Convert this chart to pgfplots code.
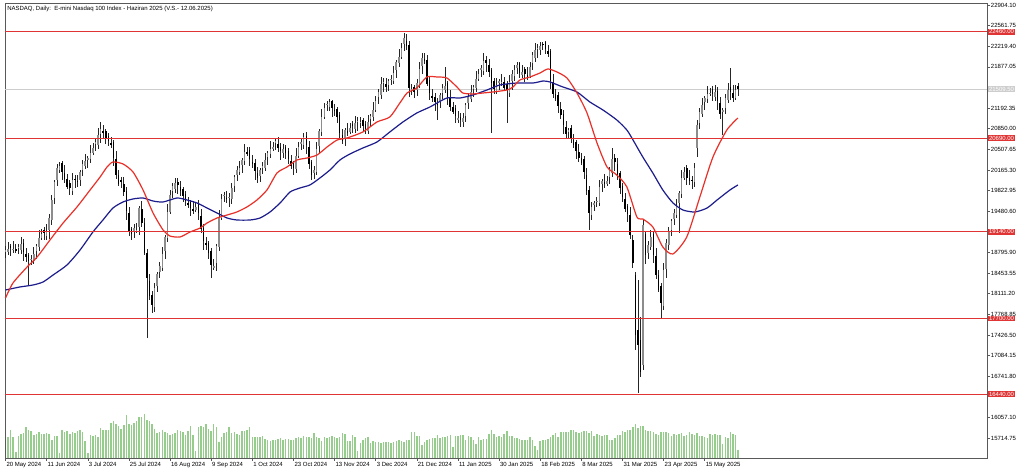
\documentclass[border=0pt]{standalone}
\usepackage{pgfplots}
\pgfplotsset{compat=1.18}
\usepackage{pgfplotstable}
\usepackage{fontspec}
\setmainfont{Liberation Sans}
\newcommand\cf{\fontsize{4.5}{5.4}\selectfont}
\definecolor{mtred}{RGB}{224,52,52}
\definecolor{mared}{RGB}{232,48,40}
\definecolor{mablue}{RGB}{28,28,140}
\definecolor{volgreen}{RGB}{150,204,140}
\definecolor{pricegrey}{RGB}{205,205,205}
\definecolor{bullgrey}{RGB}{140,140,140}
\pgfplotstableread{
i o h l c
0 18800 18897 18710 18837
1 18797 18964 18747 18854
2 18904 18944 18740 18870
3 18850 18994 18780 18854
4 18854 18934 18780 18820
5 18880 18937 18770 18887
6 18837 19057 18777 18937
7 18957 19027 18654 18804
8 18774 18864 18641 18721
9 18761 18791 18256 18654
10 18684 18748 18594 18688
11 18648 18881 18598 18771
12 18821 18943 18691 18903
13 18883 19176 18813 19036
14 19036 19183 18996 19103
15 19163 19213 19009 19119
16 19069 19272 19009 19152
17 19172 19438 19022 19368
18 19338 19757 19258 19667
19 19707 19996 19607 19966
20 19996 20258 19906 20198
21 20158 20300 20108 20231
22 20281 20321 20002 20132
23 20112 20252 19946 20016
24 20016 20096 19843 19883
25 19943 19993 19756 19866
26 19816 20119 19756 19999
27 20019 20089 19866 20016
28 19986 20076 19886 19966
29 20006 20162 19906 20132
30 20162 20325 20072 20265
31 20225 20424 20175 20314
32 20330 20404 20200 20364
33 20344 20587 20274 20447
34 20447 20610 20407 20530
35 20590 20680 20480 20630
36 20580 20866 20520 20746
37 20766 20962 20616 20846
38 20816 20906 20699 20779
39 20819 20849 20596 20696
40 20726 20786 20556 20646
41 20606 20716 20530 20580
42 20630 20670 20234 20364
43 20344 20484 20012 20082
44 20082 20162 19893 19933
45 19993 20043 19872 19982
46 19932 20052 19740 19800
47 19820 19890 19334 19484
48 19454 19544 19072 19152
49 19192 19222 19003 19103
50 19133 19262 19043 19202
51 19162 19279 19112 19169
52 19219 19574 19089 19534
53 19514 19654 19215 19285
54 19285 19365 18747 18787
55 18787 18850 17376 18372
56 18322 18442 18013 18073
57 18093 18163 17791 17924
58 17894 18296 17814 18206
59 18246 18469 18146 18439
60 18469 18631 18379 18571
61 18531 18881 18481 18771
62 18821 19093 18691 19053
63 19033 19608 18963 19468
64 19468 19830 19428 19750
65 19810 19949 19700 19899
66 19849 20032 19789 19949
67 19969 20039 19766 19916
68 19886 19976 19736 19816
69 19856 19886 19633 19733
70 19763 19823 19560 19650
71 19610 19720 19534 19584
72 19634 19674 19404 19534
73 19514 19654 19431 19501
74 19501 19631 19461 19551
75 19611 19661 19341 19451
76 19401 19521 19126 19186
77 19206 19276 18836 18986
78 18956 19046 18840 18920
79 18960 18990 18687 18787
80 18817 18877 18372 18588
81 18548 18681 18498 18571
82 18621 18943 18491 18903
83 18883 19508 18813 19368
84 19368 19764 19328 19684
85 19744 19800 19634 19750
86 19700 19820 19624 19684
87 19704 19787 19554 19717
88 19687 19956 19607 19866
89 19906 20079 19806 20049
90 20079 20225 19989 20165
91 20125 20308 20075 20198
92 20248 20371 20118 20331
93 20311 20604 20241 20464
94 20464 20544 20391 20431
95 20491 20541 20238 20348
96 20298 20418 20205 20265
97 20285 20355 19998 20148
98 20118 20208 19952 20032
99 20072 20195 19972 20165
100 20195 20291 20105 20231
101 20191 20441 20141 20331
102 20381 20487 20251 20447
103 20427 20654 20357 20514
104 20514 20627 20474 20547
105 20607 20696 20497 20646
106 20596 20716 20470 20530
107 20550 20620 20330 20480
108 20450 20604 20370 20514
109 20554 20584 20347 20447
110 20477 20537 20258 20348
111 20308 20418 20181 20231
112 20281 20321 20082 20198
113 20178 20537 20108 20397
114 20397 20627 20357 20547
115 20607 20680 20497 20630
116 20580 20779 20520 20713
117 20733 20803 20430 20580
118 20550 20640 20185 20265
119 20305 20335 19999 20082
120 20112 20225 20022 20165
121 20125 20624 20075 20514
122 20564 20852 20434 20812
123 20792 21185 20722 21045
124 21045 21274 21005 21194
125 21254 21311 21144 21261
126 21211 21340 21151 21294
127 21314 21330 21044 21194
128 21164 21254 21064 21144
129 21184 21214 20945 21045
130 21075 21135 20689 20779
131 20739 20849 20596 20646
132 20696 20869 20566 20829
133 20809 20949 20726 20796
134 20796 20942 20756 20862
135 20922 20972 20785 20895
136 20845 21065 20785 20945
137 20965 21048 20815 20978
138 20948 21052 20868 20962
139 21002 21032 20795 20895
140 20925 20985 20756 20846
141 20806 21072 20756 20962
142 21012 21101 20882 21061
143 21041 21301 20971 21161
144 21161 21390 21121 21310
145 21370 21510 21260 21460
146 21410 21713 21350 21593
147 21613 21696 21463 21626
148 21596 21686 21463 21543
149 21583 21672 21483 21642
150 21672 21736 21582 21676
151 21636 21885 21586 21775
152 21825 21998 21695 21958
153 21938 22181 21868 22041
154 22041 22270 22001 22190
155 22250 22439 22140 22356
156 22306 22426 22163 22223
157 22243 22313 21376 21526
158 21496 21600 21416 21510
159 21550 21580 21360 21460
160 21490 21669 21400 21609
161 21569 21952 21519 21842
162 21892 22107 21762 22024
163 22004 22100 21921 21991
164 21991 22071 21553 21593
165 21653 21703 21333 21443
166 21393 21513 21300 21360
167 21380 21450 21144 21294
168 21264 21354 20995 21261
169 21301 21440 21201 21410
170 21440 21586 21350 21526
171 21486 21875 21436 21559
172 21609 21649 21247 21377
173 21357 21497 21141 21211
174 21211 21291 21088 21128
175 21188 21238 20951 21061
176 21011 21148 20951 21028
177 21048 21118 20879 20995
178 20965 21118 20885 21028
179 21068 21274 20968 21244
180 21274 21437 21184 21377
181 21337 21570 21287 21460
182 21510 21583 21380 21543
183 21523 21816 21453 21676
184 21676 21839 21636 21759
185 21819 21908 21709 21858
186 21808 22100 21748 21974
187 21994 22064 21791 21941
188 21911 22001 21712 21792
189 21832 21862 20779 21609
190 21639 21699 21420 21510
191 21470 21686 21420 21576
192 21626 21682 21496 21642
193 21622 21766 21552 21626
194 21626 21706 21486 21526
195 21586 21636 20945 21493
196 21443 21746 21383 21626
197 21646 21829 21496 21759
198 21729 21915 21649 21825
199 21865 21958 21765 21908
200 21938 21960 21685 21775
201 21735 21902 21685 21792
202 21842 21882 21629 21759
203 21739 21879 21655 21725
204 21725 21955 21685 21875
205 21935 22124 21825 22074
206 22024 22277 21964 22157
207 22177 22260 22027 22190
208 22160 22290 22080 22223
209 22263 22293 22157 22257
210 22287 22300 22084 22174
211 22134 22244 22041 22091
212 22141 22181 21512 21642
213 21622 21762 21357 21427
214 21427 21507 21304 21344
215 21404 21454 21117 21227
216 21177 21297 21018 21078
217 21098 21168 20762 20912
218 20882 20972 20683 20763
219 20803 20859 20703 20829
220 20859 20919 20606 20696
221 20656 20766 20530 20580
222 20630 20670 20351 20481
223 20461 20601 20294 20364
224 20364 20444 20241 20281
225 20341 20391 20022 20132
226 20082 20202 19756 19816
227 19836 19906 19169 19451
228 19421 19641 19341 19551
229 19591 19647 19491 19617
230 19647 19710 19557 19650
231 19610 19993 19560 19883
232 19933 20022 19803 19982
233 19962 20102 19863 19933
234 19933 20062 19893 19982
235 20042 20215 19932 20165
236 20115 20530 20055 20348
237 20368 20438 20148 20298
238 20268 20358 20002 20082
239 20122 20152 19766 19866
240 19896 19956 19627 19717
241 19677 19787 19468 19518
242 19568 19608 19305 19435
243 19415 19555 19016 19086
244 19003 19080 18540 18621
245 18422 18471 17177 17426
246 17509 18339 16463 17260
247 17343 17725 16729 16812
248 16928 19335 16845 19252
249 19100 19150 18600 18754
250 18784 18980 18694 18920
251 18880 19163 18830 19053
252 19103 19143 18624 18754
253 18734 18874 18352 18422
254 18422 18502 18133 18173
255 18233 18283 17708 17957
256 17907 18625 17847 18505
257 18525 19023 18375 18953
258 18923 19226 18843 19136
259 19176 19348 19076 19318
260 19348 19511 19258 19451
261 19411 19677 19361 19567
262 19617 19823 19119 19783
263 19763 20172 19693 20032
264 20032 20212 19992 20132
265 20192 20242 19922 20032
266 20040 20160 19922 19982
267 20002 20072 19849 19999
268 19969 20288 19889 20198
269 20530 20995 20381 20912
270 20942 21188 20852 21128
271 21088 21354 21038 21244
272 21294 21400 21164 21360
273 21340 21567 21270 21427
274 21427 21523 21387 21443
275 21503 21553 21317 21427
276 21377 21580 21317 21460
277 21480 21550 21160 21310
278 21280 21370 21015 21095
279 21135 21191 20746 21161
280 21191 21420 21101 21360
281 21320 21603 21270 21493
282 21543 21858 21330 21460
283 21440 21580 21290 21360
284 21360 21573 21320 21493
285 21553 21603 21400 21509.5
}\candles
\pgfplotstableread[header=false,row sep=\\]{16\\21\\28\\21\\6\\22\\24\\25\\31\\28\\27\\23\\24\\26\\24\\24\\25\\24\\18\\22\\22\\5\\28\\26\\27\\24\\26\\25\\27\\28\\26\\17\\5\\23\\22\\23\\21\\30\\28\\28\\28\\35\\37\\34\\32\\29\\33\\43\\34\\33\\35\\37\\41\\41\\44\\38\\37\\34\\29\\25\\26\\28\\26\\25\\23\\24\\25\\28\\27\\26\\23\\27\\32\\23\\7\\31\\32\\31\\34\\29\\27\\34\\31\\16\\21\\25\\26\\31\\25\\26\\24\\23\\27\\27\\28\\31\\21\\21\\21\\21\\22\\19\\18\\17\\18\\18\\19\\20\\18\\19\\19\\18\\18\\20\\21\\20\\22\\21\\21\\20\\25\\21\\20\\17\\21\\20\\21\\22\\21\\20\\21\\25\\24\\17\\17\\23\\21\\7\\15\\18\\20\\21\\15\\17\\16\\16\\15\\16\\16\\16\\15\\16\\17\\18\\17\\16\\18\\18\\26\\26\\22\\22\\13\\16\\18\\19\\20\\20\\23\\20\\21\\21\\22\\23\\11\\22\\22\\23\\23\\18\\22\\21\\18\\14\\21\\18\\19\\19\\24\\28\\24\\21\\22\\21\\24\\27\\22\\22\\20\\20\\19\\18\\18\\18\\21\\18\\12\\8\\17\\18\\18\\19\\21\\23\\25\\21\\26\\26\\26\\26\\28\\28\\26\\25\\26\\27\\27\\25\\27\\22\\24\\23\\22\\23\\23\\18\\18\\20\\23\\23\\27\\26\\28\\28\\31\\34\\30\\32\\32\\28\\27\\27\\26\\24\\23\\26\\26\\26\\25\\22\\24\\23\\24\\25\\22\\23\\26\\24\\23\\25\\22\\22\\21\\20\\24\\23\\24\\23\\23\\14\\21\\20\\26\\24\\23\\8\\}\vol
\begin{document}
\begin{tikzpicture}
\useasboundingbox (0,0) rectangle (768pt,355.5pt);
\fill[white] (0,0) rectangle (768pt,355.5pt);
% volume pane (same frame, own scale)
\begin{axis}[at={(3.75pt,12pt)},anchor=south west,scale only axis,
  width=736.5pt,height=341.25pt,xmin=-0.2,xmax=381.8,ymin=0,ymax=455,hide axis]
\addplot[ycomb,mark=none,volgreen,line width=1.1pt] table[x expr=\coordindex,y index=0]{\vol};
\end{axis}
\begin{axis}[at={(3.75pt,12pt)},anchor=south west,scale only axis,
  width=736.5pt,height=341.25pt,
  xmin=-0.2,xmax=381.8,ymin=15384.2,ymax=22937.2,
  clip=false,
  axis line style={black!65,line width=0.5pt},
  tick align=outside,major tick length=2.25pt,
  tick style={black!65,line width=0.4pt},
  xtick pos=bottom,ytick pos=right,yticklabel pos=right,
  xtick={0,16,...,272},
  xticklabels={20 May 2024,11 Jun 2024,3 Jul 2024,25 Jul 2024,16 Aug 2024,9 Sep 2024,1 Oct 2024,23 Oct 2024,13 Nov 2024,3 Dec 2024,21 Dec 2024,11 Jan 2025,30 Jan 2025,18 Feb 2025,8 Mar 2025,31 Mar 2025,23 Apr 2025,15 May 2025},
  xticklabel style={font=\cf,anchor=north west,inner sep=0.6pt},
  ytick={15714.75,16057.10,16741.80,17084.15,17426.50,17768.85,18111.20,18453.55,18795.90,19480.60,19822.95,20165.30,20507.65,20850.00,21192.35,21877.05,22219.40,22561.75,22904.10},
  yticklabels={15714.75,16057.10,16741.80,17084.15,17426.50,17768.85,18111.20,18453.55,18795.90,19480.60,19822.95,20165.30,20507.65,20850.00,21192.35,21877.05,22219.40,22561.75,22904.10},
  yticklabel style={font=\cf,anchor=west,inner sep=0.5pt},
]
% current price line
\addplot[pricegrey,line width=0.6pt,forget plot] coordinates {(-0.2,21509.5) (381.8,21509.5)};
% wicks
\addplot[draw=none,no markers,forget plot,
  error bars/.cd,y dir=both,y explicit,error mark=none,
  error bar style={draw=black!85,line width=0.45pt}]
  table[x=i,y expr={(\thisrow{h}+\thisrow{l})/2},y error expr={(\thisrow{h}-\thisrow{l})/2}]{\candles};
% bull bodies
\addplot[draw=none,no markers,forget plot,
  x filter/.expression={\thisrow{c}>\thisrow{o} ? x : nan},
  error bars/.cd,y dir=both,y explicit,error mark=none,
  error bar style={draw=bullgrey,line width=1.15pt}]
  table[x=i,y expr={(\thisrow{o}+\thisrow{c})/2},y error expr={abs(\thisrow{o}-\thisrow{c})/2}]{\candles};
% bear bodies
\addplot[draw=none,no markers,forget plot,
  x filter/.expression={\thisrow{c}<\thisrow{o} ? x : nan},
  error bars/.cd,y dir=both,y explicit,error mark=none,
  error bar style={draw=black,line width=1.15pt}]
  table[x=i,y expr={(\thisrow{o}+\thisrow{c})/2},y error expr={abs(\thisrow{o}-\thisrow{c})/2}]{\candles};
% moving averages
\addplot[mablue,line width=0.9pt,smooth,tension=0.4] coordinates {(0,18173) (5.6,18223) (10.7,18256) (14.6,18306) (18.5,18422) (23.9,18588) (29,18837) (34,19136) (37.9,19335) (41.8,19534) (45.7,19634) (49.6,19684) (53.5,19700) (57.4,19650) (61.3,19634) (66.7,19700) (70.6,19667) (74.5,19617) (78.4,19534) (82.3,19451) (86.2,19368) (90,19335) (95.1,19335) (99,19368) (102.9,19468) (106.8,19617) (110.7,19800) (114.5,19866) (118.4,19916) (122.3,20032) (126.2,20165) (130.1,20331) (134,20431) (139,20530) (144.5,20630) (149.5,20796) (154.6,20962) (160,21111) (165.1,21211) (171.7,21360) (176.8,21360) (181.8,21410) (187.3,21493) (192.3,21576) (198.9,21609) (205.2,21609) (209.1,21642) (211.8,21626) (216.8,21543) (222.3,21460) (227.3,21294) (232.4,21161) (237.8,20995) (241.7,20829) (244.1,20663) (247.9,20381) (251.8,20115) (255.7,19833) (259.6,19620) (263.5,19501) (268.2,19468) (272.9,19534) (276.8,19667) (281.8,19833) (284.9,19916)};
\addplot[mared,line width=0.9pt,smooth,tension=0.4] coordinates {(0,18040) (2.9,18289) (8.4,18555) (12.3,18721) (17.3,19003) (22.4,19285) (27.8,19551) (32.9,19833) (36.8,20049) (39.5,20215) (41.8,20298) (45.7,20265) (49.6,20132) (53.5,19833) (57.4,19451) (61.3,19169) (64,19069) (67.9,19053) (71.8,19136) (75.7,19202) (78.4,19285) (82.3,19368) (86.2,19418) (90,19468) (93.9,19551) (97.8,19667) (101.7,19833) (105.6,20115) (109.5,20215) (113.4,20331) (117.3,20364) (121.2,20414) (125.1,20547) (129,20663) (132.8,20696) (139,20796) (144.5,20962) (149.5,21045) (153.4,21277) (156.2,21443) (160,21526) (163.9,21709) (167.8,21709) (171.7,21692) (175.6,21543) (177.9,21443) (181.8,21427) (185.7,21443) (189.6,21460) (195.1,21493) (197.4,21543) (200.1,21659) (204,21709) (207.9,21775) (211,21842) (214.5,21792) (218.4,21692) (222.3,21443) (226.2,21111) (230.1,20613) (234,20215) (237.8,20082) (241.7,19883) (245.6,19385) (247.9,19352) (251.8,19219) (255.7,18887) (259.6,18771) (265,19053) (270.1,19717) (275.2,20381) (280.6,20829) (284.9,21028)};
% horizontal levels
\addplot[mtred,line width=0.8pt,forget plot] coordinates {(-0.2,22460) (381.8,22460)};
\addplot[mtred,line width=0.8pt,forget plot] coordinates {(-0.2,20690) (381.8,20690)};
\addplot[mtred,line width=0.8pt,forget plot] coordinates {(-0.2,19140) (381.8,19140)};
\addplot[mtred,line width=0.8pt,forget plot] coordinates {(-0.2,17700) (381.8,17700)};
\addplot[mtred,line width=0.8pt,forget plot] coordinates {(-0.2,16440) (381.8,16440)};
\coordinate (tg0) at (axis cs:381.8,21509.5);
\coordinate (tg1) at (axis cs:381.8,22460);
\coordinate (tg2) at (axis cs:381.8,20690);
\coordinate (tg3) at (axis cs:381.8,19140);
\coordinate (tg4) at (axis cs:381.8,17700);
\coordinate (tg5) at (axis cs:381.8,16440);
% title
\node[anchor=north west,font=\cf,inner sep=0pt] at ([xshift=1.5pt,yshift=-2pt]rel axis cs:0,1) {NASDAQ, Daily:\ \ E-mini Nasdaq 100 Index - Haziran 2025 (V.S.- 12.06.2025)};
\end{axis}
% price tags drawn over the tick labels
\tikzset{tag/.style={fill=#1,text=white,font=\cf,anchor=west,inner xsep=0.8pt,inner ysep=0.6pt,xshift=0.5pt}}
\node[tag=pricegrey] at (tg0) {21509.50};
\node[tag=mtred] at (tg1) {22460.00};
\node[tag=mtred] at (tg2) {20690.00};
\node[tag=mtred] at (tg3) {19140.00};
\node[tag=mtred] at (tg4) {17700.00};
\node[tag=mtred] at (tg5) {16440.00};
\end{tikzpicture}
\end{document}
